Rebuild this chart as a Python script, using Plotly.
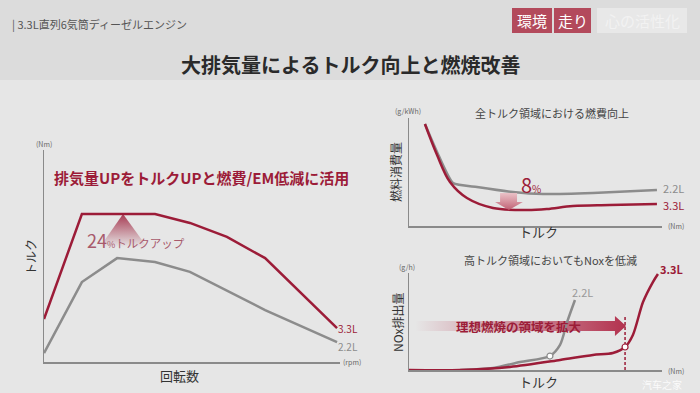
import plotly.graph_objects as go

W, H = 700, 393
RED = "#9c1c38"
GRAY = "#8c8c8c"
AX = "#8a8a8a"
FONT = "Noto Sans CJK JP"

# ---- Data: left chart (torque vs rpm, normalized units) ----
rpm_33 = [0, 12.8, 37.5, 49.3, 61.8, 74.7, 99]
torque_33 = [20.3, 69.8, 69.8, 65.6, 59.0, 49.0, 16.0]
rpm_22 = [0, 12.8, 24.7, 37.5, 49.3, 61.8, 74.7, 99]
torque_22 = [4.2, 37.7, 49.0, 47.2, 42.5, 33.5, 24.5, 9.4]

# ---- Data: right-top chart (fuel consumption vs torque) ----
fc_x_33 = [6.3, 11.1, 16.2, 22.9, 33.2, 46.6, 54.5, 64.8, 79.4, 98]
fc_y_33 = [94.4, 65.7, 40.7, 25.9, 16.7, 14.8, 15.7, 18.5, 19.4, 20.4]
fc_x_22 = [6.3, 11.1, 17.4, 26.9, 41.1, 53.0, 72.7, 98]
fc_y_22 = [94.4, 68.5, 39.8, 36.1, 31.5, 29.6, 30.6, 33.3]

# ---- Data: right-bottom chart (NOx vs torque) ----
nox_x_33 = [0, 20.2, 39.9, 59.7, 72.7, 80.6, 85.4, 88.5, 92.5, 96.4, 98.4]
nox_y_33 = [0, 0, 3.1, 10.3, 15.5, 17.5, 23.7, 36.1, 70.1, 90.7, 99]
nox_x_22 = [20.2, 33.2, 43.9, 55.7, 59.7, 62.5, 65.6]
nox_y_22 = [0, 2.1, 8.2, 14.4, 25.8, 49.5, 72.2]
knee_33 = (85.4, 23.7)
knee_22 = (55.7, 14.4)

labels = ["3.3L", "2.2L"]


def fx(px):
    return px / W


def fy(py):
    return 1 - py / H


fig = go.Figure()

# Left chart traces
fig.add_trace(go.Scatter(x=rpm_22, y=torque_22, mode="lines",
                         line=dict(color=GRAY, width=2.5), xaxis="x", yaxis="y"))
fig.add_trace(go.Scatter(x=rpm_33, y=torque_33, mode="lines",
                         line=dict(color=RED, width=2.5), xaxis="x", yaxis="y"))
# gradient triangle (24% torque up)
apex_x = 26.7
fig.add_trace(go.Scatter(x=[apex_x, 34.8, 18.9, apex_x], y=[torque_33[1], 54.2, 54.2, torque_33[1]],
                         mode="lines", line=dict(width=0), fill="toself",
                         fillgradient=dict(type="vertical",
                                           colorscale=[[0, "rgba(156,28,56,0)"], [1, "rgba(156,28,56,0.85)"]]),
                         xaxis="x", yaxis="y"))

# Right-top traces
fig.add_trace(go.Scatter(x=fc_x_22, y=fc_y_22, mode="lines",
                         line=dict(color=GRAY, width=2.5, shape="spline", smoothing=0.5),
                         xaxis="x2", yaxis="y2"))
fig.add_trace(go.Scatter(x=fc_x_33, y=fc_y_33, mode="lines",
                         line=dict(color=RED, width=2.5, shape="spline", smoothing=1.0),
                         xaxis="x2", yaxis="y2"))
# down arrow
fig.add_trace(go.Scatter(x=[36, 42.7, 42.7, 45, 39.5, 34, 36, 36],
                         y=[30.6, 30.6, 22.2, 22.2, 14.8, 22.2, 22.2, 30.6],
                         mode="lines", line=dict(width=0), fill="toself",
                         fillgradient=dict(type="vertical",
                                           colorscale=[[0, "rgba(190,90,110,0.95)"], [1, "rgba(235,190,196,0.9)"]]),
                         xaxis="x2", yaxis="y2"))

# Right-bottom traces
fig.add_trace(go.Scatter(x=[2.4, 81.4, 81.4, 85.8, 81.4, 81.4, 2.4, 2.4],
                         y=[50.5, 50.5, 55.7, 45.4, 35.1, 40.2, 40.2, 50.5],
                         mode="lines", line=dict(width=0), fill="toself",
                         fillgradient=dict(type="horizontal",
                                           colorscale=[[0, "rgba(176,40,70,0)"], [1, "rgba(176,40,70,0.95)"]]),
                         xaxis="x3", yaxis="y3"))
fig.add_trace(go.Scatter(x=[knee_33[0], knee_33[0]], y=[0, 54.6], mode="lines",
                         line=dict(color=RED, width=1.5, dash="3px,2px"), xaxis="x3", yaxis="y3"))
fig.add_trace(go.Scatter(x=nox_x_22, y=nox_y_22, mode="lines",
                         line=dict(color=GRAY, width=2.5, shape="spline", smoothing=0.8),
                         xaxis="x3", yaxis="y3"))
fig.add_trace(go.Scatter(x=nox_x_33, y=nox_y_33, mode="lines",
                         line=dict(color=RED, width=2.5, shape="spline", smoothing=0.8),
                         xaxis="x3", yaxis="y3"))
fig.add_trace(go.Scatter(x=[knee_22[0]], y=[knee_22[1]], mode="markers",
                         marker=dict(size=6, color="white", line=dict(color=GRAY, width=1.2)),
                         xaxis="x3", yaxis="y3"))
fig.add_trace(go.Scatter(x=[knee_33[0]], y=[knee_33[1]], mode="markers",
                         marker=dict(size=6, color="white", line=dict(color=RED, width=1.2)),
                         xaxis="x3", yaxis="y3"))

axis_common = dict(showgrid=False, zeroline=False, showticklabels=False, ticks="",
                   showline=True, linecolor=AX, linewidth=1.5, range=[0, 100], fixedrange=True)

fig.update_layout(
    width=W, height=H, margin=dict(l=0, r=0, t=0, b=0),
    paper_bgcolor="#e6e6e6", plot_bgcolor="rgba(0,0,0,0)",
    showlegend=False, font=dict(family=FONT, color="#444"),
    hovermode=False,
    xaxis=dict(domain=[fx(44), fx(340)], anchor="y", **axis_common),
    yaxis=dict(domain=[fy(362), fy(150)], anchor="x", **axis_common),
    xaxis2=dict(domain=[fx(409), fx(662)], anchor="y2", **axis_common),
    yaxis2=dict(domain=[fy(226), fy(118)], anchor="x2", **axis_common),
    xaxis3=dict(domain=[fx(409), fx(662)], anchor="y3", **axis_common),
    yaxis3=dict(domain=[fy(370), fy(273)], anchor="x3", **axis_common),
)

shapes = [
    dict(type="rect", xref="paper", yref="paper", x0=0, x1=1, y0=fy(80), y1=1,
         fillcolor="#dcdcdc", line=dict(width=0), layer="below"),
    dict(type="rect", xref="paper", yref="paper", x0=fx(512), x1=fx(552), y0=fy(33), y1=fy(8),
         fillcolor="#b34a5c", line=dict(width=0)),
    dict(type="rect", xref="paper", yref="paper", x0=fx(554), x1=fx(591), y0=fy(33), y1=fy(8),
         fillcolor="#b34a5c", line=dict(width=0)),
    dict(type="rect", xref="paper", yref="paper", x0=fx(597), x1=fx(687), y0=fy(33), y1=fy(8),
         fillcolor="#e8e8e8", line=dict(width=0)),
]
fig.update_layout(shapes=shapes)


def ann(text, x, y, size, color="#444", xanchor="center", yanchor="middle", angle=0, bold=False, family=FONT):
    if bold:
        text = f"<b>{text}</b>"
    return dict(text=text, x=fx(x), y=fy(y), xref="paper", yref="paper", showarrow=False,
                font=dict(size=size, color=color, family=family), xanchor=xanchor, yanchor=yanchor,
                textangle=angle)


annotations = [
    ann("| 3.3L直列6気筒ディーゼルエンジン", 10, 24, 11, "#555", xanchor="left"),
    ann("大排気量によるトルク向上と燃焼改善", 350, 65, 20, "#2a2a2a", bold=True),
    ann("環境", 532, 21, 15, "white"),
    ann("走り", 572.5, 21, 15, "white"),
    ann("心の活性化", 642, 21, 15, "#f2f2f2"),
    # left chart
    ann("(Nm)", 44, 144, 7, "#666"),
    ann("(rpm)", 341, 362, 7, "#666", xanchor="left"),
    ann("排気量UPをトルクUPと燃費/EM低減に活用", 52, 177, 15, RED, xanchor="left", bold=True),
    ann("<span style='font-size:18px'>24</span><span style='font-size:9px'>%</span>トルクアップ",
        85, 240, 11.5, "#a85a6c", xanchor="left"),
    ann("トルク", 30, 257, 12, "#333", angle=-90),
    ann("回転数", 180, 375, 13, "#333"),
    # right top
    ann("(g/kWh)", 408, 111, 7, "#666"),
    ann("(Nm)", 666, 226, 7, "#666", xanchor="left"),
    ann("全トルク領域における燃費向上", 552, 113, 11, "#444"),
    ann("燃料消費量", 395, 172, 12, "#333", angle=-90),
    ann("トルク", 538, 232, 13, "#333"),
    ann("8<span style='font-size:10px'>%</span>", 531, 185, 20, RED),
    # right bottom
    ann("(g/h)", 407, 267, 7, "#666"),
    ann("(Nm)", 666, 371, 7, "#666", xanchor="left"),
    ann("高トルク領域においてもNoxを低減", 550, 260, 11, "#444"),
    ann("NOx排出量", 397, 323, 12, "#333", angle=-90),
    ann("トルク", 538, 381, 13, "#333"),
    ann("理想燃焼の領域を拡大", 519, 326, 12.5, RED, bold=True),
    ann("汽车之家", 662, 384, 10, "rgba(255,255,255,0.85)", family="Noto Sans CJK SC"),
]

# series end labels, anchored to data
annotations += [
    dict(text=labels[0], x=rpm_33[-1], y=torque_33[-1], xref="x", yref="y", showarrow=False,
         xanchor="left", yanchor="middle", xshift=-1, yshift=0, font=dict(size=10, color=RED, family=FONT)),
    dict(text=labels[1], x=rpm_22[-1], y=torque_22[-1], xref="x", yref="y", showarrow=False,
         xanchor="left", yanchor="middle", xshift=-1, yshift=-4, font=dict(size=10, color=GRAY, family=FONT)),
    dict(text=labels[1], x=fc_x_22[-1], y=fc_y_22[-1], xref="x2", yref="y2", showarrow=False,
         xanchor="left", yanchor="middle", xshift=4, yshift=2, font=dict(size=11, color=GRAY, family=FONT)),
    dict(text=labels[0], x=fc_x_33[-1], y=fc_y_33[-1], xref="x2", yref="y2", showarrow=False,
         xanchor="left", yanchor="middle", xshift=4, yshift=-1, font=dict(size=11, color=RED, family=FONT)),
    dict(text=labels[1], x=nox_x_22[-1], y=nox_y_22[-1], xref="x3", yref="y3", showarrow=False,
         xanchor="left", yanchor="middle", xshift=-5, yshift=8, font=dict(size=11, color="#999", family=FONT)),
    dict(text=f"<b>{labels[0]}</b>", x=nox_x_33[-1], y=nox_y_33[-1], xref="x3", yref="y3", showarrow=False,
         xanchor="left", yanchor="middle", xshift=0, yshift=5, font=dict(size=11, color=RED, family=FONT)),
]
fig.update_layout(annotations=annotations)

fig.write_html("out.html", config={"displayModeBar": False, "staticPlot": True},
               post_script="document.body.style.margin='0';document.body.style.padding='0';"
                           "document.body.style.overflow='hidden';")
